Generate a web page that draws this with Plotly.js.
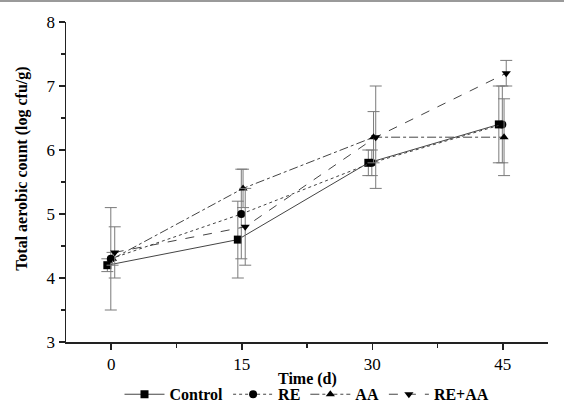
<!DOCTYPE html>
<html>
<head>
<meta charset="utf-8">
<script src="https://cdn.plot.ly/plotly-3.0.1.min.js"></script>
<style>
  html, body { margin: 0; padding: 0; background: #fff; }
  #chart { width: 564px; height: 407px; box-sizing: border-box; border-top: 2px solid #9a9a9a; border-right: 2px solid #9a9a9a; }
</style>
</head>
<body>
<div id="chart"></div>
<script>
// ---- data ----
const days = [0, 15, 30, 45];
const seriesNames = ["Control", "RE", "AA", "RE+AA"];
const control = [4.2, 4.6, 5.8, 6.4];
const controlErr = [0.1, 0.6, 0.2, 0.6];
const re = [4.3, 5.0, 5.8, 6.4];
const reErr = [0.8, 0.7, 0.2, 0.6];
const aa = [4.3, 5.4, 6.2, 6.2];
const aaErr = [0.1, 0.3, 0.4, 0.6];
const reaa = [4.4, 4.8, 6.2, 7.2];
const reaaErr = [0.4, 0.6, 0.8, 0.2];
const xTickVals = [0, 15, 30, 45];
const xTickText = ["0", "15", "30", "45"];
const yTickVals = [3, 4, 5, 6, 7, 8];
const xTitle = "Time (d)";
const yTitle = "Total aerobic count (log cfu/g)";

// ---- styles ----
const FONT = "'Liberation Serif', 'Times New Roman', serif";
const styles = [
  { y: control, err: controlErr, symbol: "square", dash: "solid", shift: -0.45 },
  { y: re, err: reErr, symbol: "circle", dash: "dot", shift: -0.05 },
  { y: aa, err: aaErr, symbol: "triangle-up", dash: "dashdot", shift: 0.15 },
  { y: reaa, err: reaaErr, symbol: "triangle-down", dash: "dash", shift: 0.4 }
];

const traces = styles.map((s, i) => ({
  type: "scatter",
  mode: "lines+markers",
  name: seriesNames[i],
  x: days.map(d => d + s.shift),
  y: s.y,
  line: { color: "#444", width: 1, dash: s.dash },
  marker: { symbol: s.symbol, size: 8, color: "#000" },
  error_y: { type: "data", array: s.err, visible: true, color: "#7a7a7a", thickness: 1, width: 6 }
}));

const layout = {
  width: 564,
  height: 407,
  margin: { l: 66, r: 16, t: 20, b: 67 },
  paper_bgcolor: "#fff",
  plot_bgcolor: "#fff",
  font: { family: FONT, color: "#000", size: 16 },
  showlegend: true,
  legend: {
    orientation: "h",
    xref: "paper", yref: "container",
    x: 0.5, xanchor: "center",
    y: 0.036, yanchor: "middle",
    font: { family: FONT, size: 16, color: "#000", weight: "bold" },
    itemwidth: 40,
    tracegroupgap: 0
  },
  xaxis: {
    range: [-5.2, 50.2],
    tickvals: xTickVals,
    ticktext: xTickText,
    ticks: "outside",
    ticklen: 6,
    tickwidth: 1.5,
    tickcolor: "#222",
    showline: true,
    linecolor: "#222",
    linewidth: 1.5,
    showgrid: false,
    zeroline: false,
    tickfont: { family: FONT, size: 17, color: "#000" },
    minor: { tickvals: [7.5, 22.5, 37.5], ticks: "outside", ticklen: 4, tickcolor: "#222", showgrid: false }
  },
  yaxis: {
    range: [3, 8],
    tickvals: yTickVals,
    ticks: "outside",
    ticklen: 6,
    tickwidth: 1.5,
    tickcolor: "#222",
    showline: true,
    linecolor: "#222",
    linewidth: 1.5,
    showgrid: false,
    zeroline: false,
    tickfont: { family: FONT, size: 17, color: "#000" },
    minor: { dtick: 0.5, ticks: "outside", ticklen: 4, tickcolor: "#222", showgrid: false }
  },
  annotations: [{
    text: yTitle,
    xref: "paper", yref: "paper",
    x: -0.0913, y: 0.541,
    xanchor: "center", yanchor: "middle",
    textangle: -90,
    showarrow: false,
    font: { family: FONT, size: 16, color: "#000", weight: "bold" }
  }, {
    text: xTitle,
    xref: "paper", yref: "paper",
    x: 0.5, y: -0.1164,
    xanchor: "center", yanchor: "middle",
    showarrow: false,
    font: { family: FONT, size: 16, color: "#000", weight: "bold" }
  }]
};

Plotly.newPlot("chart", traces, layout, { displayModeBar: false, staticPlot: true });
</script>
</body>
</html>
